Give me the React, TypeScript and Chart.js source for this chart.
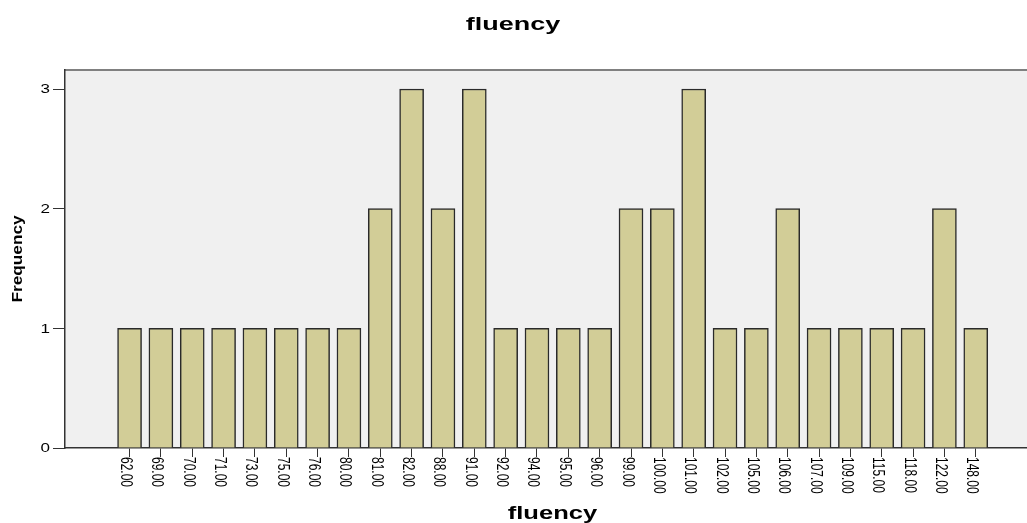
import React, { useEffect, useRef } from 'react';
import { Chart, registerables } from 'chart.js';

Chart.register(...registerables);

const chartTitle = 'fluency';
const xAxisTitle = 'fluency';
const yAxisTitle = 'Frequency';
const categories = [
  '62.00', '69.00', '70.00', '71.00', '73.00', '75.00', '76.00', '80.00', '81.00', '82.00',
  '88.00', '91.00', '92.00', '94.00', '95.00', '96.00', '99.00', '100.00', '101.00', '102.00',
  '105.00', '106.00', '107.00', '109.00', '115.00', '118.00', '122.00', '148.00',
];
const frequencies = [
  1, 1, 1, 1, 1, 1, 1, 1, 2, 3,
  2, 3, 1, 1, 1, 1, 2, 2, 3, 1,
  1, 2, 1, 1, 1, 1, 2, 1,
];
const yTicks = [0, 1, 2, 3];

const STRETCH = 1.42;
const FONT = '"Liberation Sans", Arial, sans-serif';

type TextOpts = {
  font: string;
  angle?: number;
  imgSx?: number;
  tsx?: number;
  tsy?: number;
  align?: CanvasTextAlign;
  baseline?: CanvasTextBaseline;
  color?: string;
};

function drawText(ctx: CanvasRenderingContext2D, text: string, x: number, y: number, o: TextOpts) {
  ctx.save();
  ctx.translate(x, y);
  ctx.scale(o.imgSx ?? 1, 1);
  ctx.rotate(o.angle ?? 0);
  ctx.scale(o.tsx ?? 1, o.tsy ?? 1);
  ctx.font = o.font;
  ctx.fillStyle = o.color ?? '#000';
  ctx.textAlign = o.align ?? 'left';
  ctx.textBaseline = o.baseline ?? 'alphabetic';
  ctx.fillText(text, 0, 0);
  ctx.restore();
}

const spssPlugin = {
  id: 'spssLook',
  beforeDraw(chart: any) {
    const { ctx, chartArea: a } = chart;
    ctx.save();
    ctx.fillStyle = '#F0F0F0';
    ctx.fillRect(a.left, a.top, a.right - a.left, a.bottom - a.top);
    ctx.strokeStyle = '#808080';
    ctx.lineWidth = 2;
    ctx.beginPath();
    ctx.moveTo(a.left, a.top);
    ctx.lineTo(a.right, a.top);
    ctx.stroke();
    ctx.restore();
  },
  afterDraw(chart: any) {
    const { ctx, chartArea: a } = chart;
    const xs = chart.scales.x;
    const ys = chart.scales.y;
    drawText(ctx, chartTitle, 513, 30, {
      font: `bold 19px ${FONT}`, imgSx: STRETCH, align: 'center',
    });
    categories.forEach((lab, i) => {
      const px = xs.getPixelForValue(i);
      drawText(ctx, lab, px - 8.5, a.bottom + 9, {
        font: `12px ${FONT}`, imgSx: STRETCH, angle: Math.PI / 2, align: 'left',
      });
    });
    yTicks.forEach((v) => {
      const py = ys.getPixelForValue(v);
      drawText(ctx, String(v), 50, py + 4.3, {
        font: `12px ${FONT}`, imgSx: STRETCH, align: 'right',
      });
    });
    drawText(ctx, xAxisTitle, (a.left + a.right) / 2, 519, {
      font: `bold 18px ${FONT}`, imgSx: STRETCH, align: 'center',
    });
    drawText(ctx, yAxisTitle, 22, (a.top + a.bottom) / 2, {
      font: `bold 15px ${FONT}`, angle: -Math.PI / 2, tsx: 1.15, tsy: 0.95, align: 'center',
    });
  },
};

export default function App() {
  const ref = useRef<HTMLCanvasElement | null>(null);

  useEffect(() => {
    if (!ref.current) return;
    const chart = new Chart(ref.current, {
      type: 'bar',
      data: {
        datasets: [
          {
            label: 'Frequency',
            data: frequencies.map((v, i) => ({ x: i, y: v })),
            backgroundColor: '#D2CD97',
            borderColor: '#2a2a2a',
            borderWidth: 1.5,
            barThickness: 24,
          },
        ],
      },
      options: {
        animation: false,
        responsive: false,
        devicePixelRatio: 1,
        layout: { padding: { left: 0, top: 70, right: 5, bottom: 0 } },
        plugins: {
          legend: { display: false },
          tooltip: { enabled: false },
          title: { display: false },
        },
        scales: {
          x: {
            type: 'linear',
            min: -2.06,
            max: 29.05,
            offset: false,
            afterBuildTicks: (scale: any) => {
              scale.ticks = categories.map((_, i) => ({ value: i }));
            },
            afterFit: (scale: any) => {
              scale.height = 75;
            },
            ticks: { display: false },
            grid: {
              display: true,
              offset: false,
              drawOnChartArea: false,
              drawTicks: true,
              tickLength: 9,
              color: '#333',
              lineWidth: 1,
            },
            border: { display: true, color: '#333', width: 1.5 },
          },
          y: {
            type: 'linear',
            min: 0,
            max: 3.159,
            afterBuildTicks: (scale: any) => {
              scale.ticks = yTicks.map((v) => ({ value: v }));
            },
            afterFit: (scale: any) => {
              scale.width = 65;
            },
            ticks: { display: false },
            grid: {
              display: true,
              drawOnChartArea: false,
              drawTicks: true,
              tickLength: 12,
              color: '#333',
              lineWidth: 1,
            },
            border: { display: true, color: '#333', width: 1.5 },
          },
        },
      } as any,
      plugins: [spssPlugin],
    });
    return () => chart.destroy();
  }, []);

  return (
    <div
      style={{
        position: 'absolute',
        left: 0,
        top: 0,
        width: 1027,
        height: 523,
        overflow: 'hidden',
        background: '#fff',
      }}
    >
      <canvas ref={ref} width={1045} height={523} style={{ width: 1045, height: 523, display: 'block' }} />
    </div>
  );
}
